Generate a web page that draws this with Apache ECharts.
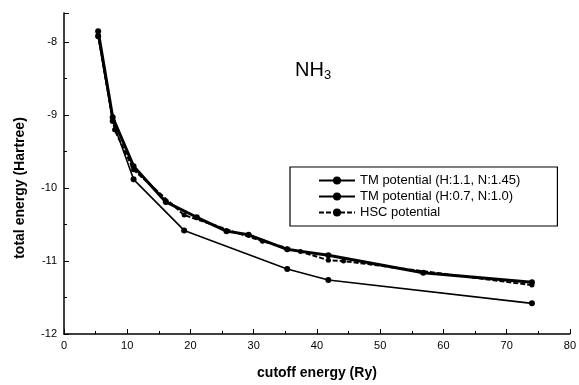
<!DOCTYPE html>
<html>
<head>
<meta charset="utf-8">
<script src="https://cdn.jsdelivr.net/npm/echarts@6/dist/echarts.min.js"></script>
<style>html,body{margin:0;padding:0;background:#fff}#c{width:579px;height:385px}</style>
</head>
<body>
<div id="c"></div>
<script>
// Data
const tm11X = [5.4, 7.7, 11.0, 16.1, 21.0, 25.7, 29.2, 35.3, 41.8, 56.8, 74.0];
const tm11Y = [-7.85, -9.03, -9.70, -10.19, -10.40, -10.59, -10.64, -10.84, -10.92, -11.16, -11.29];
const tm07X = [5.4, 7.7, 11.0, 19.0, 35.3, 41.8, 74.0];
const tm07Y = [-7.92, -9.08, -9.88, -10.58, -11.11, -11.26, -11.58];
const hscX = [5.4, 8.0, 11.0, 19.0, 31.4, 37.4, 41.8, 44.2, 74.0];
const hscY = [-7.90, -9.20, -9.75, -10.37, -10.73, -10.87, -10.99, -11.00, -11.33];
const seriesNames = ['TM potential (H:1.1, N:1.45)', 'TM potential (H:0.7, N:1.0)', 'HSC potential'];
const xTicks = [0, 80, 10];
const yTicks = [-12, -7.6, 1];

const pairs = (xs, ys) => xs.map((x, i) => [x, ys[i]]);
const font = 'Liberation Sans, Arial, sans-serif';
const chart = echarts.init(document.getElementById('c'), null, {renderer: 'canvas'});
chart.setOption({
  backgroundColor: '#fff',
  animation: false,
  grid: {left: 64, right: 9, top: 13, bottom: 49},
  xAxis: {
    type: 'value', min: xTicks[0], max: xTicks[1], interval: xTicks[2],
    name: 'cutoff energy (Ry)', nameLocation: 'middle', nameGap: 32,
    nameTextStyle: {fontFamily: font, fontSize: 14, fontWeight: 'bold', color: '#000'},
    axisLine: {show: true, lineStyle: {color: '#000', width: 1.5}},
    axisTick: {show: true, inside: true, length: 5, lineStyle: {color: '#000'}},
    minorTick: {show: true, splitNumber: 2, length: 3, lineStyle: {color: '#000'}},
    axisLabel: {fontFamily: font, fontSize: 11, color: '#000', margin: 6},
    splitLine: {show: false}
  },
  yAxis: {
    type: 'value', min: yTicks[0], max: yTicks[1], interval: yTicks[2],
    axisLine: {show: true, lineStyle: {color: '#000', width: 1.5}},
    axisTick: {show: true, inside: true, length: 5, lineStyle: {color: '#000'}},
    minorTick: {show: true, splitNumber: 2, length: 3, lineStyle: {color: '#000'}},
    axisLabel: {fontFamily: font, fontSize: 11, color: '#000', margin: 7, showMaxLabel: false,
      formatter: v => (Number.isInteger(v) ? String(v) : '')},
    splitLine: {show: false}
  },
  legend: {
    orient: 'vertical', left: 290, top: 167,
    padding: [7, 37, 7, 28], itemGap: 3, itemWidth: 36, itemHeight: 10,
    borderColor: '#000', borderWidth: 1.2, borderRadius: 0,
    textStyle: {fontFamily: font, fontSize: 13, color: '#000', lineHeight: 11},
    data: seriesNames
  },
  series: [
    {name: seriesNames[0], type: 'line', data: pairs(tm11X, tm11Y),
     symbol: 'circle', symbolSize: 6, itemStyle: {color: '#000'},
     lineStyle: {color: '#000', width: 3}},
    {name: seriesNames[1], type: 'line', data: pairs(tm07X, tm07Y),
     symbol: 'circle', symbolSize: 6, itemStyle: {color: '#000'},
     lineStyle: {color: '#000', width: 1.6}},
    {name: seriesNames[2], type: 'line', data: pairs(hscX, hscY),
     symbol: 'circle', symbolSize: 5, itemStyle: {color: '#000'},
     lineStyle: {color: '#000', width: 2, type: [5, 2]}}
  ],
  graphic: [
    {type: 'text', left: 295, top: 60,
     style: {text: '{a|NH}{b|3}', rich: {
       a: {fontFamily: font, fontSize: 20, fill: '#000'},
       b: {fontFamily: font, fontSize: 13, fill: '#000', padding: [10, 0, 0, 0]}}}},
    {type: 'text', x: 20, y: 188, rotation: Math.PI / 2,
     style: {text: 'total energy (Hartree)', fontFamily: font, fontSize: 14, fontWeight: 'bold',
       fill: '#000', align: 'center', verticalAlign: 'middle'}}
  ]
});
</script>
</body>
</html>
